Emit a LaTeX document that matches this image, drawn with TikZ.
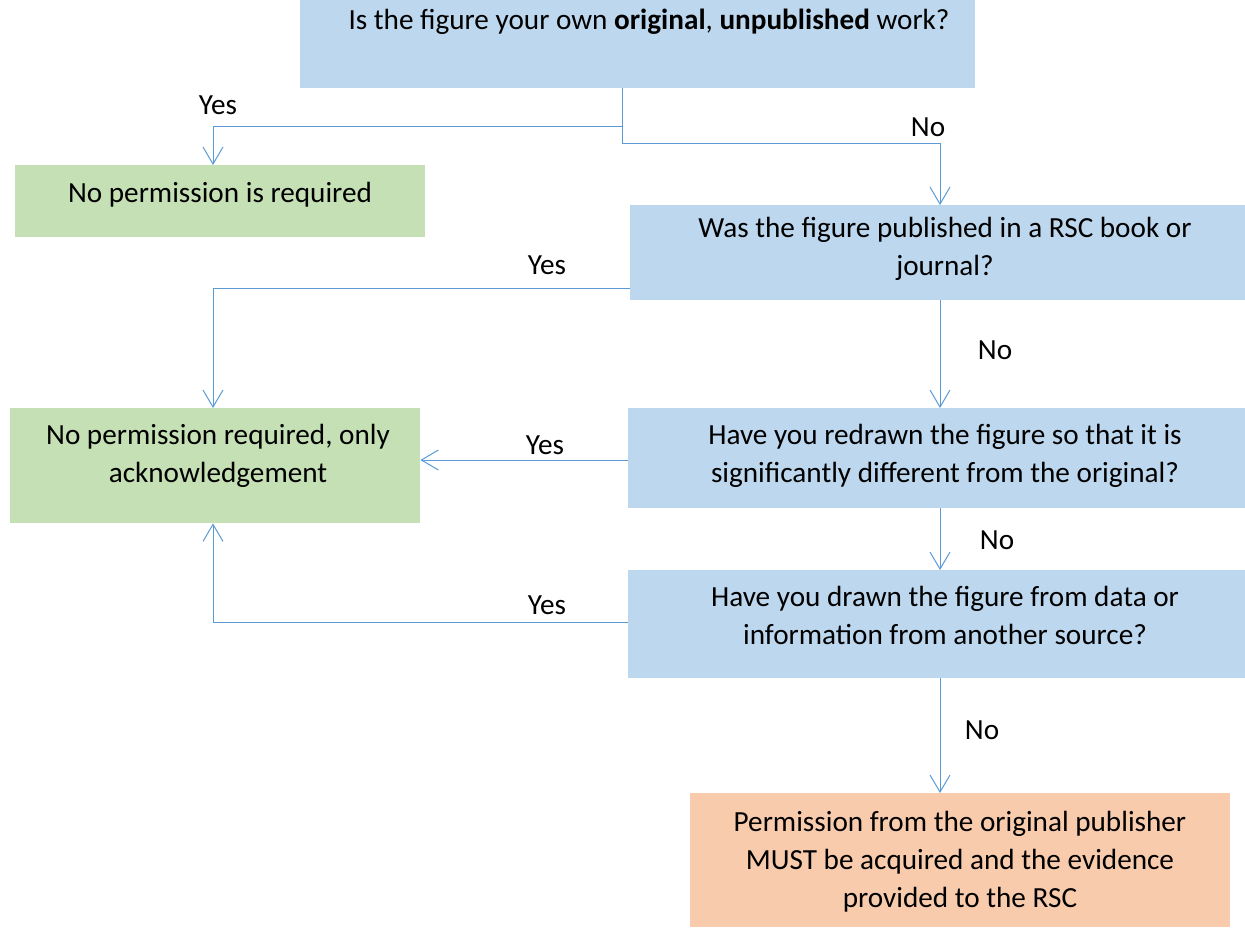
\documentclass[tikz,border=0pt]{standalone}
\usepackage{fontspec}
\setmainfont{Carlito}
\usetikzlibrary{calc,arrows.meta}

\definecolor{qblue}{HTML}{BDD7EE}
\definecolor{okgreen}{HTML}{C5E0B4}
\definecolor{warnorange}{HTML}{F8CBAD}
\definecolor{linkblue}{HTML}{5B9BD5}

\tikzset{
  box/.style={rectangle, inner sep=0pt, anchor=north west},
  boxtext/.style={anchor=base, align=center, inner sep=0pt},
  conn/.style={draw=linkblue, line width=1pt, -{Straight Barb[length=17pt,width=20pt]}},
  answer/.style={inner sep=0pt}
}

\begin{document}
\begin{tikzpicture}[x=1pt, y=-1pt, font=\fontsize{29.2}{38}\selectfont]
\useasboundingbox (0,0) rectangle (1245,927);

% boxes
\node[box, fill=qblue, minimum width=675pt, minimum height=88pt] (q1) at (300,0) {};
\node[box, fill=okgreen, minimum width=410pt, minimum height=72pt] (free) at (15,165) {};
\node[box, fill=qblue, minimum width=615pt, minimum height=95pt] (q2) at (630,205) {};
\node[box, fill=okgreen, minimum width=410pt, minimum height=115pt] (ack) at (10,408) {};
\node[box, fill=qblue, minimum width=617pt, minimum height=100pt] (q3) at (628,408) {};
\node[box, fill=qblue, minimum width=617pt, minimum height=108pt] (q4) at (628,570) {};
\node[box, fill=warnorange, minimum width=540pt, minimum height=134pt] (perm) at (690,793) {};

% texts (base = last line)
\node[boxtext] (q1t) at (649,29) {Is the figure your own \textbf{original}, \textbf{unpublished} work?};
\node[boxtext] (freet) at (220,202) {No permission is required};
\node[boxtext] (q2t) at (945,275) {Was the figure published in a RSC book or\\journal?};
\node[boxtext] (ackt) at (218,482) {No permission required, only\\acknowledgement};
\node[boxtext] (q3t) at (945,482) {Have you redrawn the figure so that it is\\significantly different from the original?};
\node[boxtext] (q4t) at (945,644) {Have you drawn the figure from data or\\information from another source?};
\node[boxtext] (permt) at (960,907) {Permission from the original publisher\\MUST be acquired and the evidence\\provided to the RSC};

% bends
\coordinate (split) at (622,126);
\coordinate (yes1) at (213,126);
\coordinate (no1a) at (622,143);
\coordinate (no1b) at (940,143);
\coordinate (yes2) at (213,288);
\coordinate (yes4) at (213,622);

% connectors
\draw[conn] (q1.south -| split) -- (split) -- (yes1) -- (yes1 |- free.north);
\draw[conn] (split) -- (no1a) -- (no1b) -- (no1b |- q2.north);
\draw[conn] (q2.west |- yes2) -- (yes2) -- (yes2 |- ack.north);
\draw[conn] (q2.south -| no1b) -- (q3.north -| no1b);
\draw[conn] (q3.west |- 0,460) -- (ack.east |- 0,460);
\draw[conn] (q3.south -| no1b) -- (q4.north -| no1b);
\draw[conn] (q4.west |- yes4) -- (yes4) -- (yes4 |- ack.south);
\draw[conn] (q4.south -| no1b) -- (perm.north -| no1b);

% answers
\node[answer] (a1) at (218,105) {Yes};
\node[answer] (a2) at (928,127) {No};
\node[answer] (a3) at (547,265) {Yes};
\node[answer] (a4) at (995,350) {No};
\node[answer] (a5) at (545,445) {Yes};
\node[answer] (a6) at (997,540) {No};
\node[answer] (a7) at (547,605) {Yes};
\node[answer] (a8) at (982,730) {No};

\end{tikzpicture}
\end{document}
